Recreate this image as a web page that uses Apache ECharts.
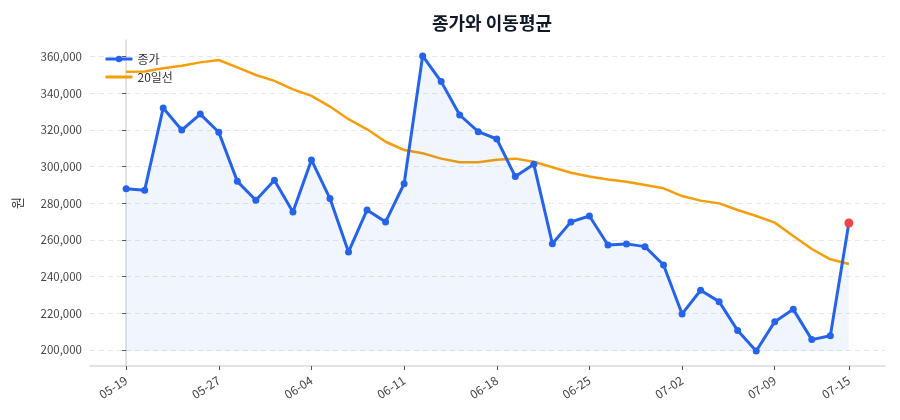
<!DOCTYPE html>
<html>
<head>
<meta charset="utf-8">
<script src="https://cdn.jsdelivr.net/npm/echarts@6/dist/echarts.min.js"></script>
<style>
  html, body { margin: 0; padding: 0; background: #fff; }
  #chart { width: 900px; height: 420px; }
</style>
</head>
<body>
<div id="chart"></div>
<script>
// trading days (MM-DD)
const dates = [
  '05-19', '05-20', '05-21', '05-22', '05-23', '05-27', '05-28', '05-29', '05-30', '06-02',
  '06-04', '06-05', '06-06', '06-09', '06-10', '06-11', '06-12', '06-13', '06-16', '06-17',
  '06-18', '06-19', '06-20', '06-23', '06-24', '06-25', '06-26', '06-27', '06-30', '07-01',
  '07-02', '07-03', '07-04', '07-07', '07-08', '07-09', '07-10', '07-11', '07-14', '07-15'
]
// 종가
const closePrice = [
  288000, 287200, 332000, 320000, 328700, 318800, 292000, 281700, 292600, 275300,
  303700, 282600, 253500, 276400, 269900, 290700, 360400, 346400, 328200, 319100,
  315100, 294600, 301300, 258000, 269900, 273100, 257300, 257900, 256400, 246400,
  219700, 232600, 226400, 210600, 199500, 215500, 222200, 205700, 207800, 269300
]
// 20일선
const ma20 = [
  351800, 351900, 353700, 355100, 356900, 358200, 354200, 350000, 346800, 342200,
  338600, 332800, 325900, 320400, 313600, 309100, 307300, 304400, 302400, 302400,
  303800, 304400, 302700, 299700, 296700, 294600, 293000, 291800, 290000, 288200,
  284000, 281500, 280000, 276400, 273100, 269500, 262200, 255100, 249500, 246900
]
const yTicks = [200000, 220000, 240000, 260000, 280000, 300000, 320000, 340000, 360000]
const xTickIdx = [0, 5, 10, 15, 20, 25, 30, 35, 39]

const BLUE = '#2563eb'
const ORANGE = '#f59e0b'
const RED = '#ef4444'
const FONT = '"Noto Sans CJK KR", "Noto Sans", sans-serif'

const lastIdx = closePrice.length - 1
const closeData = closePrice.map((v, i) => {
  if (i === lastIdx) {
    return { value: [i, v], symbolSize: 9, itemStyle: { color: RED } }
  }
  return [i, v]
})
const maData = ma20.map((v, i) => [i, v])

const chart = echarts.init(document.getElementById('chart'), null, { renderer: 'canvas' })

chart.setOption({
  animation: false,
  textStyle: { fontFamily: FONT },
  title: {
    text: '종가와 이동평균',
    left: 487,
    textAlign: 'center',
    top: 9,
    textStyle: { fontSize: 18, fontWeight: 'bold', color: '#111827', fontFamily: FONT }
  },
  legend: {
    orient: 'vertical',
    left: 99,
    top: 48,
    itemWidth: 27,
    itemHeight: 8,
    itemGap: 6,
    textStyle: { fontSize: 12, color: '#333', fontFamily: FONT },
    data: [
      { name: '종가', lineStyle: { width: 3 } },
      { name: '20일선', itemStyle: { opacity: 0 }, lineStyle: { width: 3 } }
    ]
  },
  grid: { left: 90, right: 15, top: 40, bottom: 54 },
  xAxis: {
    type: 'value',
    min: -1.95,
    max: lastIdx + 1.95,
    axisLine: { show: true, lineStyle: { color: '#d6d9de', width: 1.5 } },
    axisTick: {
      show: true,
      customValues: xTickIdx,
      length: 4,
      lineStyle: { color: '#555' }
    },
    axisLabel: {
      customValues: xTickIdx,
      rotate: 33,
      fontSize: 12,
      color: '#444',
      margin: 13,
      formatter: v => dates[v]
    },
    splitLine: { show: false }
  },
  yAxis: {
    type: 'value',
    min: 191300,
    max: 369100,
    name: '원',
    nameLocation: 'middle',
    nameGap: 66,
    nameTextStyle: { fontSize: 13, color: '#333', fontFamily: FONT },
    axisLine: { show: true, lineStyle: { color: '#d6d9de', width: 1.5 } },
    axisTick: {
      show: true,
      customValues: yTicks,
      length: 4,
      lineStyle: { color: '#555' }
    },
    axisLabel: {
      customValues: yTicks,
      fontSize: 11.5,
      color: '#444',
      margin: 8,
      formatter: v => v.toLocaleString('en-US')
    },
    splitLine: {
      show: true,
      lineStyle: { color: '#e5e7eb', type: [5, 4], width: 1 }
    }
  },
  series: [
    {
      name: '종가',
      type: 'line',
      data: closeData,
      symbol: 'circle',
      symbolSize: 7,
      showAllSymbol: true,
      lineStyle: { color: BLUE, width: 3 },
      itemStyle: { color: BLUE },
      areaStyle: { color: 'rgba(37, 99, 235, 0.09)', origin: Math.min(...closePrice) },
      z: 3
    },
    {
      name: '20일선',
      type: 'line',
      data: maData,
      symbol: 'none',
      lineStyle: { color: ORANGE, width: 2.5 },
      itemStyle: { color: ORANGE },
      z: 2
    }
  ]
})
</script>
</body>
</html>
